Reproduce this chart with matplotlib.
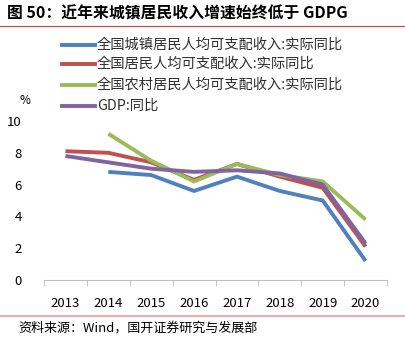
import matplotlib
matplotlib.use("Agg")
import matplotlib.pyplot as plt
from matplotlib.lines import Line2D
import numpy as np

plt.rcParams['font.family'] = ['Noto Sans CJK SC', 'DejaVu Sans']

years = ['2013', '2014', '2015', '2016', '2017', '2018', '2019', '2020']
urban = [np.nan, 6.8, 6.6, 5.6, 6.5, 5.6, 5.0, 1.2]
national = [8.1, 8.0, 7.4, 6.3, 7.3, 6.5, 5.8, 2.1]
rural = [np.nan, 9.2, 7.5, 6.2, 7.3, 6.6, 6.2, 3.8]
gdp = [7.8, 7.4, 7.0, 6.8, 6.9, 6.7, 6.0, 2.3]

labels = ['全国城镇居民人均可支配收入:实际同比',
          '全国居民人均可支配收入:实际同比',
          '全国农村居民人均可支配收入:实际同比',
          'GDP:同比']
colors = ['#4F81BD', '#C0504D', '#9BBB59', '#8064A2']
series = [urban, national, rural, gdp]

W, H = 405, 342
fig = plt.figure(figsize=(W / 100, H / 100), dpi=100)

ax = fig.add_axes([44 / W, (H - 280) / H, 343 / W, 159 / H])
x = np.arange(len(years))
for s, c in zip(series, colors):
    ax.plot(x, s, color=c, lw=2.8, solid_capstyle='butt', solid_joinstyle='miter')

ax.set_xlim(-0.5, len(years) - 0.5)
ax.set_ylim(0, 10)
ax.set_yticks([0, 2, 4, 6, 8, 10])
ax.set_xticks(x)
ax.set_xticklabels(years)
ax.set_xticks(np.arange(-0.5, len(years)), minor=True)
ax.tick_params(axis='x', which='major', length=0, pad=12, labelsize=9.5, colors='black')
ax.tick_params(axis='x', which='minor', length=4, color='#BFBFBF', direction='out')
ax.tick_params(axis='y', length=0, pad=16, labelsize=9.5)
for sp in ['top', 'right', 'left']:
    ax.spines[sp].set_visible(False)
ax.spines['bottom'].set_color('#BFBFBF')
ax.spines['bottom'].set_linewidth(0.8)

# title
fig.text(7 / W, 1 - 13 / H, '图 50：近年来城镇居民收入增速始终低于 GDPG',
         fontsize=11.4, fontweight='bold', va='center', ha='left')
fig.add_artist(Line2D([0, 1], [1 - 26 / H, 1 - 26 / H], color='#C0504D', lw=0.9))

# legend
rows_y = [45, 64, 85, 106]
for lab, c, ry in zip(labels, colors, rows_y):
    yy = 1 - ry / H
    fig.add_artist(Line2D([62 / W, 95 / W], [yy, yy], color=c, lw=2.8))
    fig.text(97 / W, yy, lab, fontsize=10.3, va='center', ha='left', color='#303030')

fig.text(25 / W, 1 - 100 / H, '%', fontsize=8.5, va='center', ha='center')

# footer
fig.add_artist(Line2D([0, 1], [1 - 316 / H, 1 - 316 / H], color='#E8A0A0', lw=1.2))
fig.text(18 / W, 1 - 328 / H, '资料来源：Wind，国开证券研究与发展部',
         fontsize=9.4, va='center', ha='left')

fig.savefig('out.png', dpi=100)
